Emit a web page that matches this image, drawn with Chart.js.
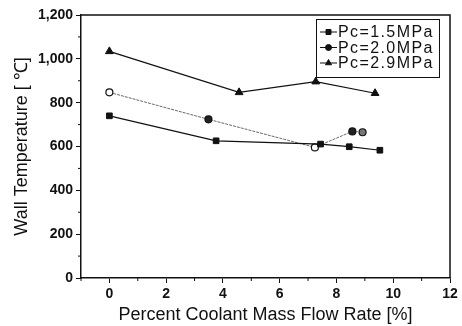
<!DOCTYPE html>
<html>
<head>
<meta charset="utf-8">
<script src="https://cdn.jsdelivr.net/npm/chart.js@4.4.1/dist/chart.umd.min.js"></script>
<style>
  html, body { margin: 0; padding: 0; background: #fff; }
  #wrap { width: 462px; height: 326px; }
</style>
</head>
<body>
<div id="wrap"><canvas id="wallChart" width="462" height="326"></canvas></div>
<script>
// values
const seriesLabels = ['Pc=1.5MPa', 'Pc=2.0MPa', 'Pc=2.9MPa'];
const flow15 = [0, 3.76, 7.44, 8.45, 9.53];
const temp15 = [740, 626, 611, 599, 583];
const flow20 = [0, 3.49, 7.24, 8.56, 8.92];
const temp20 = [847, 724, 596, 669, 665];
const flow29 = [0, 4.57, 7.27, 9.36];
const temp29 = [1034, 847, 896, 843];
const xTicks = [0, 2, 4, 6, 8, 10, 12];
const yTicks = [0, 200, 400, 600, 800, 1000, 1200];

const FONT = 'Liberation Sans, Arial, sans-serif';

function toPoints(xs, ys) {
  return xs.map((x, i) => ({ x: x, y: ys[i] }));
}

// boxed legend in the top right corner, line-marker-line symbols
const boxLegend = {
  id: 'boxLegend',
  afterDraw(chart) {
    const ctx = chart.ctx;
    const area = chart.chartArea;
    const w = 123, h = 58;
    const x0 = area.right - 134, y0 = area.top + 4;
    ctx.save();
    ctx.fillStyle = '#fff';
    ctx.fillRect(x0, y0, w, h);
    ctx.strokeStyle = '#111';
    ctx.lineWidth = 1;
    ctx.strokeRect(x0 + 0.5, y0 + 0.5, w, h);
    chart.data.datasets.forEach((ds, i) => {
      const cy = y0 + 13 + i * 15.5;
      ctx.strokeStyle = '#111';
      ctx.lineWidth = 1;
      ctx.beginPath();
      ctx.moveTo(x0 + 4, cy);
      ctx.lineTo(x0 + 21, cy);
      ctx.stroke();
      ctx.fillStyle = '#111';
      Chart.helpers.drawPoint(ctx, {
        pointStyle: ds.pointStyle,
        radius: ds.pointStyle === 'circle' ? 3 : 3.5,
        borderWidth: 1
      }, x0 + 12.5, cy);
      ctx.fillStyle = '#111';
      ctx.font = '16px ' + FONT;
      ctx.letterSpacing = '1.4px';
      ctx.textBaseline = 'middle';
      ctx.fillText(ds.label, x0 + 22, cy + 1);
    });
    ctx.restore();
  }
};

// top and right frame lines plus minor ticks
const frame = {
  id: 'frame',
  afterDraw(chart) {
    const ctx = chart.ctx;
    const a = chart.chartArea;
    const xs = chart.scales.x, ys = chart.scales.y;
    ctx.save();
    ctx.strokeStyle = '#111';
    ctx.lineWidth = 1.5;
    ctx.beginPath();
    ctx.moveTo(a.left, a.top);
    ctx.lineTo(a.right, a.top);
    ctx.lineTo(a.right, a.bottom);
    ctx.stroke();
    ctx.lineWidth = 1;
    ctx.beginPath();
    for (let v = 100; v < 1200; v += 200) {
      const y = ys.getPixelForValue(v);
      ctx.moveTo(a.left, y);
      ctx.lineTo(a.left - 3, y);
    }
    for (let v = -1; v <= 11; v += 2) {
      const x = xs.getPixelForValue(v);
      ctx.moveTo(x, a.bottom);
      ctx.lineTo(x, a.bottom + 3);
    }
    ctx.stroke();
    ctx.restore();
  }
};

new Chart(document.getElementById('wallChart'), {
  type: 'scatter',
  data: {
    datasets: [
      {
        label: seriesLabels[0],
        data: toPoints(flow15, temp15),
        showLine: true,
        borderColor: '#111',
        backgroundColor: '#111',
        borderWidth: 1.2,
        pointStyle: 'rect',
        pointRadius: 4,
        pointBorderWidth: 1
      },
      {
        label: seriesLabels[1],
        data: toPoints(flow20, temp20),
        showLine: true,
        borderColor: '#444',
        backgroundColor: '#222',
        pointBackgroundColor: ['#fff', '#222', '#fff', '#222', '#777'],
        pointBorderColor: '#111',
        borderWidth: 0.8,
        borderDash: [3, 1],
        pointStyle: 'circle',
        pointRadius: 3.5,
        pointBorderWidth: 1.2
      },
      {
        label: seriesLabels[2],
        data: toPoints(flow29, temp29),
        showLine: true,
        borderColor: '#111',
        backgroundColor: '#111',
        borderWidth: 1.2,
        pointStyle: 'triangle',
        pointRadius: 4.5,
        pointBorderWidth: 1
      }
    ]
  },
  options: {
    responsive: false,
    animation: false,
    layout: { padding: { top: 15, right: 12, left: 0, bottom: 0 } },
    plugins: {
      legend: { display: false },
      tooltip: { enabled: false }
    },
    scales: {
      x: {
        type: 'linear',
        min: -1,
        max: 12,
        afterBuildTicks(axis) { axis.ticks = xTicks.map(v => ({ value: v })); },
        afterFit(axis) { axis.height = 48; },
        border: { color: '#111', width: 1.5 },
        grid: { drawOnChartArea: false, tickLength: 5, color: '#111' },
        ticks: {
          color: '#111',
          padding: 3,
          font: { family: FONT, size: 14, weight: 'bold' }
        },
        title: {
          display: true,
          text: 'Percent Coolant Mass Flow Rate [%]',
          color: '#111',
          padding: { top: 0, bottom: 0 },
          font: { family: FONT, size: 18 }
        }
      },
      y: {
        min: 0,
        max: 1200,
        afterBuildTicks(axis) { axis.ticks = yTicks.map(v => ({ value: v })); },
        afterFit(axis) { axis.width = 81; },
        border: { color: '#111', width: 1.5 },
        grid: { drawOnChartArea: false, tickLength: 5, color: '#111' },
        ticks: {
          color: '#111',
          padding: 3,
          font: { family: FONT, size: 14, weight: 'bold' },
          callback: v => v.toLocaleString('en-US')
        },
        title: {
          display: true,
          text: 'Wall Temperature [ ℃]',
          color: '#111',
          padding: { top: 11, bottom: 0 },
          font: { family: FONT, size: 18 }
        }
      }
    }
  },
  plugins: [boxLegend, frame]
});
</script>
</body>
</html>
